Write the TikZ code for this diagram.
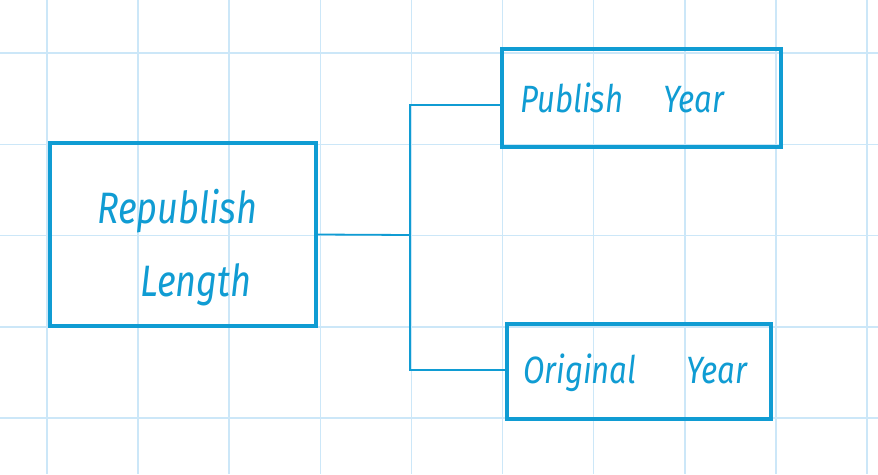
\documentclass[tikz,border=0pt]{standalone}
\usepackage{fontspec}
\newfontfamily\handfont[FakeStretch=0.82]{Fira Sans}
\usetikzlibrary{positioning}
\definecolor{inkblue}{HTML}{109CD3}
\definecolor{gridblue}{HTML}{CCE7F8}

\begin{document}
\begin{tikzpicture}[
        x=1pt, y=-1pt,
        box/.style={draw=inkblue, line width=3.5pt, inner sep=0pt},
        label/.style={text=inkblue, inner sep=0pt, font=\handfont\itshape\fontsize{38}{58}\selectfont},
        biglabel/.style={label, font=\handfont\itshape\fontsize{44}{73}\selectfont},
        link/.style={draw=inkblue, line width=1.8pt}]

        \useasboundingbox (0,0) rectangle (878,474);
        \fill[white] (0,0) rectangle (878,474);
        \foreach \i in {0,...,9}
            \draw[gridblue, line width=1.6pt] (47+91.1*\i,0) -- (47+91.1*\i,474);
        \foreach \j in {0,...,4}
            \draw[gridblue, line width=1.6pt] (0,53+91.3*\j) -- (878,53+91.3*\j);

        \node[box, minimum width=266pt, minimum height=183pt] (rl) at (183,234.5) {};
        \node[box, minimum width=279pt, minimum height=98pt] (py) at (641.5,98) {};
        \node[box, minimum width=264pt, minimum height=95pt] (oy) at (639,371.5) {};

        \node[biglabel, align=left, anchor=north west] (rltext) at (97,189) {Republish\\\hspace*{43pt}Length};
        \node[label, anchor=base west] (pytext) at (520,112) {Publish\hspace{40pt}Year};
        \node[label, anchor=base west] (oytext) at (523,383) {Original\hspace{50pt}Year};

        \coordinate (split) at (410,235);
        \draw[link] (rl.east) -- (split);
        \draw[link] ([yshift=-7pt]py.west) -| (split);
        \draw[link] ([yshift=1.5pt]oy.west) -| (split);

    \end{tikzpicture}
\end{document}
